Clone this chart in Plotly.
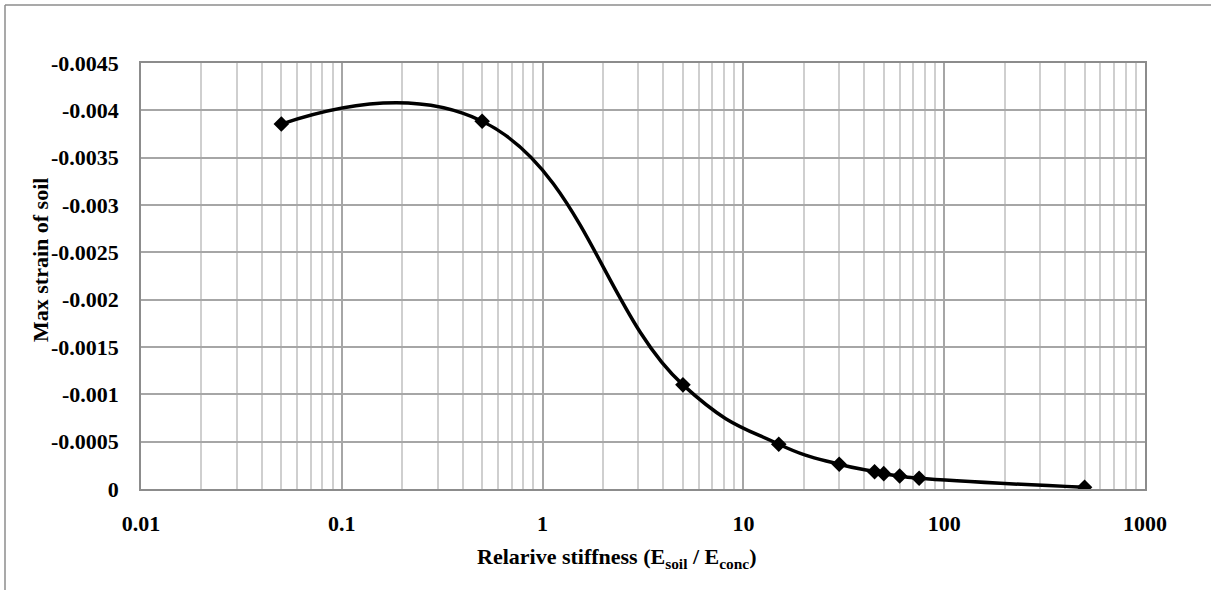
import plotly.graph_objects as go

# Data
stiffness = [0.05, 0.5, 5, 15, 30, 45, 50, 60, 75, 500]
max_strain = [-0.003855, -0.003885, -0.0011, -0.000473, -0.000261, -0.000183,
              -0.000162, -0.000137, -0.000113, -0.000018]

x_tick_vals = [0.01, 0.1, 1, 10, 100, 1000]
x_tick_text = ["0.01", "0.1", "1", "10", "100", "1000"]
y_tick_vals = [0, -0.0005, -0.001, -0.0015, -0.002, -0.0025, -0.003, -0.0035, -0.004, -0.0045]
y_tick_text = ["0", "-0.0005", "-0.001", "-0.0015", "-0.002", "-0.0025", "-0.003",
               "-0.0035", "-0.004", "-0.0045"]
minor_vals = [m * d for d in [0.01, 0.1, 1, 10, 100] for m in range(2, 10)]

FONT = "'Liberation Serif', 'Times New Roman', serif"

fig = go.Figure()
fig.add_trace(go.Scatter(
    x=stiffness, y=max_strain, mode="lines+markers",
    line=dict(color="black", width=3.5, shape="spline", smoothing=1.3),
    marker=dict(symbol="diamond", size=12, color="black"),
    showlegend=False,
))

W, H = 1211, 590
L, R, T, B = 141, 66, 63, 101
pw, ph = W - L - R, H - T - B

def px_to_paper(px, py):
    return (px - L) / pw, (H - B - py) / ph

x0, y0 = px_to_paper(5, 5)
x1, _ = px_to_paper(W + 5, 5)
_, y1 = px_to_paper(5, H + 5)
xt_x, xt_y = px_to_paper(616, 558)
yt_x, yt_y = px_to_paper(40, 260)

fig.update_layout(
    width=W, height=H,
    margin=dict(l=L, r=R, t=T, b=B),
    paper_bgcolor="white", plot_bgcolor="white",
    font=dict(family=FONT, size=22, color="black"),
    xaxis=dict(
        type="log", range=[-2, 3],
        tickvals=x_tick_vals, ticktext=x_tick_text,
        tickfont=dict(family=FONT, size=22, color="black", weight="bold"),
        showgrid=True, gridcolor="#a6a6a6", gridwidth=1.5,
        minor=dict(tickvals=minor_vals, showgrid=True, gridcolor="#cfcfcf", gridwidth=1.5),
        showline=True, linecolor="#8c8c8c", linewidth=1.5, mirror=True,
        ticks="", ticklabelstandoff=14,
        zeroline=False,
    ),
    yaxis=dict(
        range=[0, -0.0045],
        tickvals=y_tick_vals, ticktext=y_tick_text,
        tickfont=dict(family=FONT, size=22, color="black", weight="bold"),
        showgrid=True, gridcolor="#a6a6a6", gridwidth=1.5,
        showline=True, linecolor="#8c8c8c", linewidth=1.5, mirror=True,
        ticks="", ticklabelstandoff=16,
        zeroline=False,
    ),
    annotations=[
        dict(text="<b>Relarive stiffness (E<sub>soil</sub> / E<sub>conc</sub>)</b>",
             xref="paper", yref="paper", x=xt_x, y=xt_y, showarrow=False,
             xanchor="center", yanchor="middle",
             font=dict(family=FONT, size=22, color="black")),
        dict(text="<b>Max strain of soil</b>",
             xref="paper", yref="paper", x=yt_x, y=yt_y, showarrow=False,
             xanchor="center", yanchor="middle", textangle=-90,
             font=dict(family=FONT, size=22, color="black")),
    ],
    shapes=[
        dict(type="line", xref="paper", yref="paper", x0=x0, y0=y0, x1=x1, y1=y0,
             line=dict(color="#8c8c8c", width=1.5)),
        dict(type="line", xref="paper", yref="paper", x0=x0, y0=y0, x1=x0, y1=y1,
             line=dict(color="#8c8c8c", width=1.5)),
    ],
)

fig.write_html("out.html", config={"displayModeBar": False},
               post_script="document.body.style.margin='0';document.body.style.overflow='hidden';")
